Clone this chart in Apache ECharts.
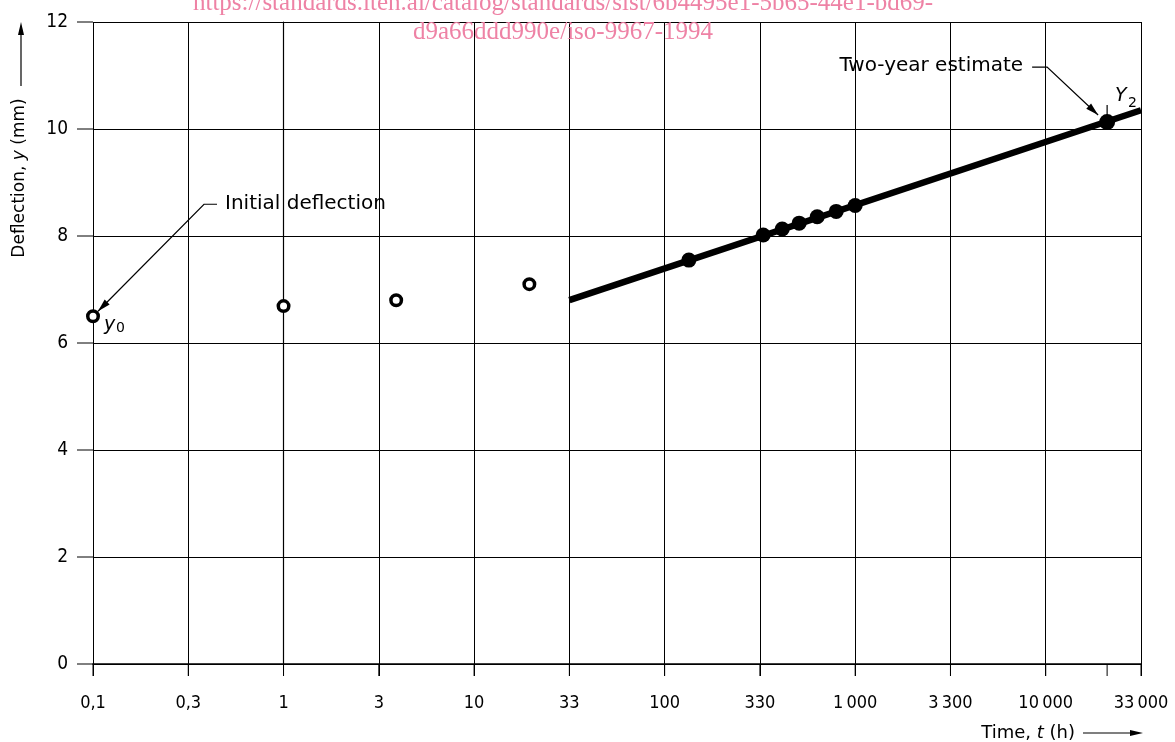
<!DOCTYPE html>
<html><head><meta charset="utf-8">
<script src="https://cdn.jsdelivr.net/npm/echarts@6/dist/echarts.min.js"></script>
<style>html,body{margin:0;padding:0;background:#fff}#c{width:1175px;height:742px}</style>
</head><body><div id="c"></div><script>
// ---- data ----
const xTickLabels = ['0,1','0,3','1','3','10','33','100','330','1\u2009000','3\u2009300','10\u2009000','33\u2009000'];
const xMinHours = 0.1;            // first gridline
const yTicks = [0, 2, 4, 6, 8, 10, 12];
const openTimes = [0.1, 1, 3.9, 19.5];          // h
const openDefl  = [6.50, 6.69, 6.80, 7.10];     // mm
const filledTimes = [134, 329, 414, 508, 632, 795, 1000];
const filledDefl  = [7.55, 8.02, 8.13, 8.24, 8.36, 8.46, 8.57];
const estTime = 21000;  const estDefl = 10.13;   // two-year estimate Y2
const fitTimes = [31.62, 31623]; const fitDefl = [6.80, 10.35];
const watermark = ['https://standards.iteh.ai/catalog/standards/sist/6b4495e1-5b65-44e1-bd69-', 'd9a66ddd990e/iso-9967-1994'];

const lg = t => Math.log10(t);
const FONT = 'DejaVu Sans';
const TICKFONT = '"DejaVu Sans Condensed", "DejaVu Sans"';
const chart = echarts.init(document.getElementById('c'), null, {renderer: 'canvas'});
const xMax = -1 + 0.5 * (xTickLabels.length - 1);

chart.setOption({
  animation: false,
  backgroundColor: '#fff',
  grid: {left: 93, right: 34, top: 22, bottom: 78, containLabel: false},
  xAxis: {
    type: 'value', min: -1, max: xMax, interval: 0.5,
    axisLine: {show: true, onZero: false, lineStyle: {color: '#000', width: 1.6}},
    axisTick: {show: true, inside: false, length: 12, lineStyle: {color: '#000', width: 1}},
    axisLabel: {color: '#000', fontFamily: TICKFONT, fontSize: 18, margin: 30,
      formatter: v => xTickLabels[Math.round((v + 1) * 2)] ?? ''},
    splitLine: {show: true, lineStyle: {color: '#000', width: 1}}
  },
  yAxis: {
    type: 'value', min: yTicks[0], max: yTicks[yTicks.length - 1], interval: yTicks[1] - yTicks[0],
    axisLine: {show: true, lineStyle: {color: '#000', width: 1.2}},
    axisTick: {show: true, inside: false, length: 16, lineStyle: {color: '#000', width: 1}},
    axisLabel: {color: '#000', fontFamily: TICKFONT, fontSize: 19, margin: 25},
    splitLine: {show: true, lineStyle: {color: '#000', width: 1}}
  },
  series: [
    {type: 'line', data: fitTimes.map((t, i) => [lg(t), fitDefl[i]]), symbol: 'none',
     lineStyle: {color: '#000', width: 6.5}, z: 3},
    {type: 'scatter', data: filledTimes.map((t, i) => [lg(t), filledDefl[i]]), symbolSize: 15,
     itemStyle: {color: '#000', opacity: 1}, z: 4},
    {type: 'scatter', data: [[lg(estTime), estDefl]], symbolSize: 16, itemStyle: {color: '#000', opacity: 1}, z: 4},
    {type: 'scatter', data: openTimes.map((t, i) => [lg(t), openDefl[i]]), symbolSize: 10.5,
     itemStyle: {color: '#fff', borderColor: '#000', borderWidth: 3.5, opacity: 1}, z: 4}
  ]
});

const px = (t, d) => chart.convertToPixel({gridIndex: 0}, [lg(t), d]);
function arrowHead(tip, from, len = 13, half = 3.5) {
  const dx = tip[0] - from[0], dy = tip[1] - from[1], L = Math.hypot(dx, dy);
  const ux = dx / L, uy = dy / L, bx = tip[0] - ux * len, by = tip[1] - uy * len;
  return {type: 'polygon', shape: {points: [tip, [bx - uy * half, by + ux * half], [bx + uy * half, by - ux * half]]},
    style: {fill: '#000'}, z: 10};
}
const line = (pts, w = 1.2) => ({type: 'polyline', shape: {points: pts}, style: {stroke: '#000', lineWidth: w, fill: null}, z: 10});
const txt = (x, y, text, opt = {}) => ({type: 'text', x, y, z: 10,
  style: Object.assign({text, fill: '#000', font: '20px "' + FONT + '"', align: 'left', verticalAlign: 'middle'}, opt)});

const y0 = px(openTimes[0], openDefl[0]);
const Y2 = px(estTime, estDefl);
const e0 = px(estTime, 0);
const eTop = px(estTime, 10.45), eBot = px(estTime, 10.0);

const g = [];
// axis ticks (drawn through the axes' own scales)
xTickLabels.forEach((_, i) => {
  const p = chart.convertToPixel({gridIndex: 0}, [-1 + 0.5 * i, 0]);
  g.push(line([[p[0], p[1]], [p[0], p[1] + 12]], 1));
});
yTicks.forEach(v => {
  const p = chart.convertToPixel({gridIndex: 0}, [-1, v]);
  g.push(line([[p[0] - 16, p[1]], [p[0], p[1]]], 1));
});
// watermark
g.push({type: 'text', x: 563, y: 16, z: 1, style: {text: watermark[0], fill: '#ee82a5', font: '25px "Liberation Serif"', align: 'center', verticalAlign: 'bottom'}});
g.push({type: 'text', x: 563, y: 45, z: 1, style: {text: watermark[1], fill: '#ee82a5', font: '25px "Liberation Serif"', align: 'center', verticalAlign: 'bottom'}});
// Initial deflection
const iTip = [y0[0] + 5, y0[1] - 5], iA = [y0[0] + 111, y0[1] - 112], iB = [y0[0] + 124, y0[1] - 112];
g.push(line([iB, iA, iTip]));
g.push(arrowHead(iTip, iA));
g.push(txt(y0[0] + 132, y0[1] - 112, 'Initial deflection'));
g.push(txt(y0[0] + 11, y0[1] + 9, 'y', {font: 'italic 19px "' + FONT + '"'}));
g.push(txt(y0[0] + 23, y0[1] + 12, '0', {font: '14px "' + FONT + '"'}));
// Two-year estimate
const tTip = [Y2[0] - 9, Y2[1] - 7], tA = [Y2[0] - 60, Y2[1] - 55], tB = [Y2[0] - 75, Y2[1] - 55];
g.push(line([tB, tA, tTip]));
g.push(arrowHead(tTip, tA));
g.push(txt(Y2[0] - 84, Y2[1] - 56, 'Two-year estimate', {align: 'right'}));
g.push(txt(Y2[0] + 8, Y2[1] - 26, 'Y', {font: 'italic 19px "' + FONT + '"'}));
g.push(txt(Y2[0] + 21, Y2[1] - 19, '2', {font: '14px "' + FONT + '"'}));
g.push(line([eTop, eBot], 1.2));
g.push(line([[e0[0], e0[1]], [e0[0], e0[1] + 12]], 1));
// y axis name
g.push({type: 'text', x: 20, y: 178, rotation: Math.PI / 2, z: 10,
  style: {text: 'Deflection, {i|y} (mm)', fill: '#000', font: '17px "' + FONT + '"', align: 'center', verticalAlign: 'middle',
    rich: {i: {font: 'italic 17px "' + FONT + '"', fill: '#000'}}}});
g.push(line([[21, 86], [21, 28]], 1.2));
g.push(arrowHead([21, 22], [21, 86], 13, 3));
// x axis name
g.push({type: 'text', x: 1075, y: 733, z: 10,
  style: {text: 'Time, {i|t} (h)', fill: '#000', font: '18px "' + FONT + '"', align: 'right', verticalAlign: 'middle',
    rich: {i: {font: 'italic 18px "' + FONT + '"', fill: '#000'}}}});
g.push(line([[1083, 733], [1137, 733]], 1.2));
g.push(arrowHead([1143, 733], [1083, 733], 13, 3));

chart.setOption({graphic: {elements: g}});
</script></body></html>
